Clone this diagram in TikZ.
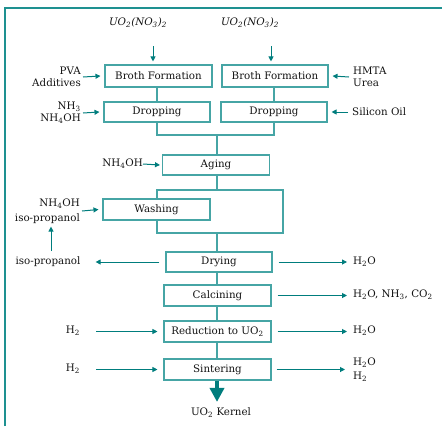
\documentclass[tikz,border=0pt]{standalone}
\usepackage{fontspec}
\setmainfont{DejaVu Serif}
\usetikzlibrary{arrows.meta}
\definecolor{boxc}{RGB}{70,165,165}
\definecolor{arrc}{RGB}{0,125,125}
\definecolor{framec}{RGB}{30,145,145}
\definecolor{txtc}{RGB}{20,20,20}
\begin{document}
\begin{tikzpicture}[x=1pt,y=-1pt,
  font=\fontsize{10.3}{12}\selectfont, text=txtc,
  stepbox/.style={draw=boxc, line width=1.1pt, fill=white, inner sep=0pt, minimum height=20pt, minimum width=106pt},
  lbl/.style={inner sep=0pt},
  arr/.style={draw=arrc, line width=1pt, -{Triangle[length=5pt,width=5pt]}},
  conn/.style={draw=boxc, line width=1.1pt}]
\useasboundingbox (0,0) rectangle (442,426);
% frame
\coordinate (fbl) at (5,426); \coordinate (ftl) at (5,8); \coordinate (ftr) at (442,8);
\draw[framec, line width=1.6pt] (fbl) -- (ftl) -- (ftr);

% loop rectangle behind washing
\coordinate (lpTL) at (157,190); \coordinate (lpBR) at (283,233);
\draw[conn] (lpTL) rectangle (lpBR);

% boxes
\node[stepbox, minimum height=22pt, minimum width=107pt] (bf1) at (158.5,76) {Broth Formation};
\node[stepbox, minimum height=22pt] (bf2) at (275,76) {Broth Formation};
\node[stepbox] (dr1) at (157,112) {Dropping};
\node[stepbox] (dr2) at (274,112) {Dropping};
\node[stepbox, minimum width=107pt] (age) at (216,165) {Aging};
\node[stepbox, minimum width=107pt, minimum height=21pt] (wash) at (156.5,209.5) {Washing};
\node[stepbox] (dry) at (219,262) {Drying};
\node[stepbox, minimum width=107pt, minimum height=21pt] (calc) at (217.5,295.5) {Calcining};
\node[stepbox, minimum width=107pt, minimum height=21pt] (red) at (217.5,331.5) {Reduction to UO\textsubscript{2}};
\node[stepbox, minimum width=107pt, minimum height=21pt] (sint) at (217.5,369.5) {Sintering};

% connectors between steps
\coordinate (mg) at (217,135);
\draw[conn] (dr1.north) -- (dr1.north |- bf1.south);
\draw[conn] (dr2.north) -- (dr2.north |- bf2.south);
\draw[conn] (dr1.south) |- (mg) -| (dr2.south);
\draw[conn] (mg) -- (mg |- age.north);
\draw[conn] (mg |- age.south) -- (mg |- lpTL);
\draw[conn] (mg |- lpBR) -- (mg |- dry.north);
\draw[conn] (mg |- dry.south) -- (mg |- calc.north);
\draw[conn] (mg |- calc.south) -- (mg |- red.north);
\draw[conn] (mg |- red.south) -- (mg |- sint.north);

% top inputs
\node[lbl] (u1) at (138,23) {\textit{UO\textsubscript{2}(NO\textsubscript{3})\textsubscript{2}}};
\node[lbl] (u2) at (250,23) {\textit{UO\textsubscript{2}(NO\textsubscript{3})\textsubscript{2}}};
\coordinate (i1) at (153,46); \coordinate (i2) at (271,46);
\draw[arr] (i1) -- ([yshift=3pt]i1 |- bf1.north);
\draw[arr] (i2) -- ([yshift=3pt]i2 |- bf2.north);

% side inputs
\node[lbl, anchor=east, align=right] (pva) at (81,77) {PVA\\Additives};
\draw[arr] ([xshift=2pt]pva.east) -- ([xshift=-4pt]bf1.west);
\node[lbl, anchor=west, align=left] (hmta) at (353,77) {HMTA\\Urea};
\draw[arr] ([xshift=-4pt]hmta.west) -- ([xshift=4pt]bf2.east);
\node[lbl, anchor=east, align=right] (nh3) at (81,113) {NH\textsubscript{3}\\NH\textsubscript{4}OH};
\draw[arr] ([xshift=2pt]nh3.east) -- ([xshift=-4pt]dr1.west);
\node[lbl, anchor=west] (sil) at (352,112) {Silicon Oil};
\draw[arr] ([xshift=-4pt]sil.west) -- ([xshift=4pt]dr2.east);
\node[lbl, anchor=east] (nhage) at (143,164) {NH\textsubscript{4}OH};
\draw[arr] (nhage.east) -- ([xshift=-2pt]age.west);
\node[lbl, anchor=east, align=right, font=\fontsize{10.3}{15}\selectfont] (wlab) at (80,211) {NH\textsubscript{4}OH\\iso-propanol};
\draw[arr] ([xshift=2pt]wlab.east) -- ([xshift=-4pt]wash.west);

\node[lbl] (iso) at (48,262) {iso-propanol};
\coordinate (isoup) at (51,251);
\draw[arr] (isoup) -- ([yshift=-3pt]isoup |- wlab.south);
\draw[arr] ([xshift=-6pt]dry.west) -- ([xshift=15pt]iso.east);

\node[lbl, anchor=west] (odry) at (353,262) {H\textsubscript{2}O};
\draw[arr] ([xshift=6pt]dry.east) -- ([xshift=-6pt]odry.west);
\node[lbl, anchor=west] (ocalc) at (353,295) {H\textsubscript{2}O, NH\textsubscript{3}, CO\textsubscript{2}};
\draw[arr] ([xshift=6pt]calc.east) -- ([xshift=-6pt]ocalc.west |- calc.east);
\node[lbl, anchor=west] (ored) at (353,331) {H\textsubscript{2}O};
\draw[arr] ([xshift=6pt]red.east) -- ([xshift=-6pt]ored.west |- red.east);
\node[lbl, anchor=west, align=left, font=\fontsize{10.3}{14}\selectfont] (osint) at (353,370) {H\textsubscript{2}O\\H\textsubscript{2}};
\draw[arr] ([xshift=5pt]sint.east) -- ([xshift=-8pt]osint.west |- sint.east);

\node[lbl] (h2a) at (73,331) {H\textsubscript{2}};
\draw[arr] ([xshift=16pt]h2a.east |- red.west) -- ([xshift=-6pt]red.west);
\node[lbl] (h2b) at (73,369) {H\textsubscript{2}};
\draw[arr] ([xshift=16pt]h2b.east |- sint.west) -- ([xshift=-6pt]sint.west);

% output
\node[lbl] (kern) at (221,413) {UO\textsubscript{2} Kernel};
\draw[draw=arrc, line width=4.5pt, -{Triangle[length=14pt,width=14pt]}] (mg |- sint.south) -- ([yshift=6pt]mg |- kern.north);
\end{tikzpicture}
\end{document}
